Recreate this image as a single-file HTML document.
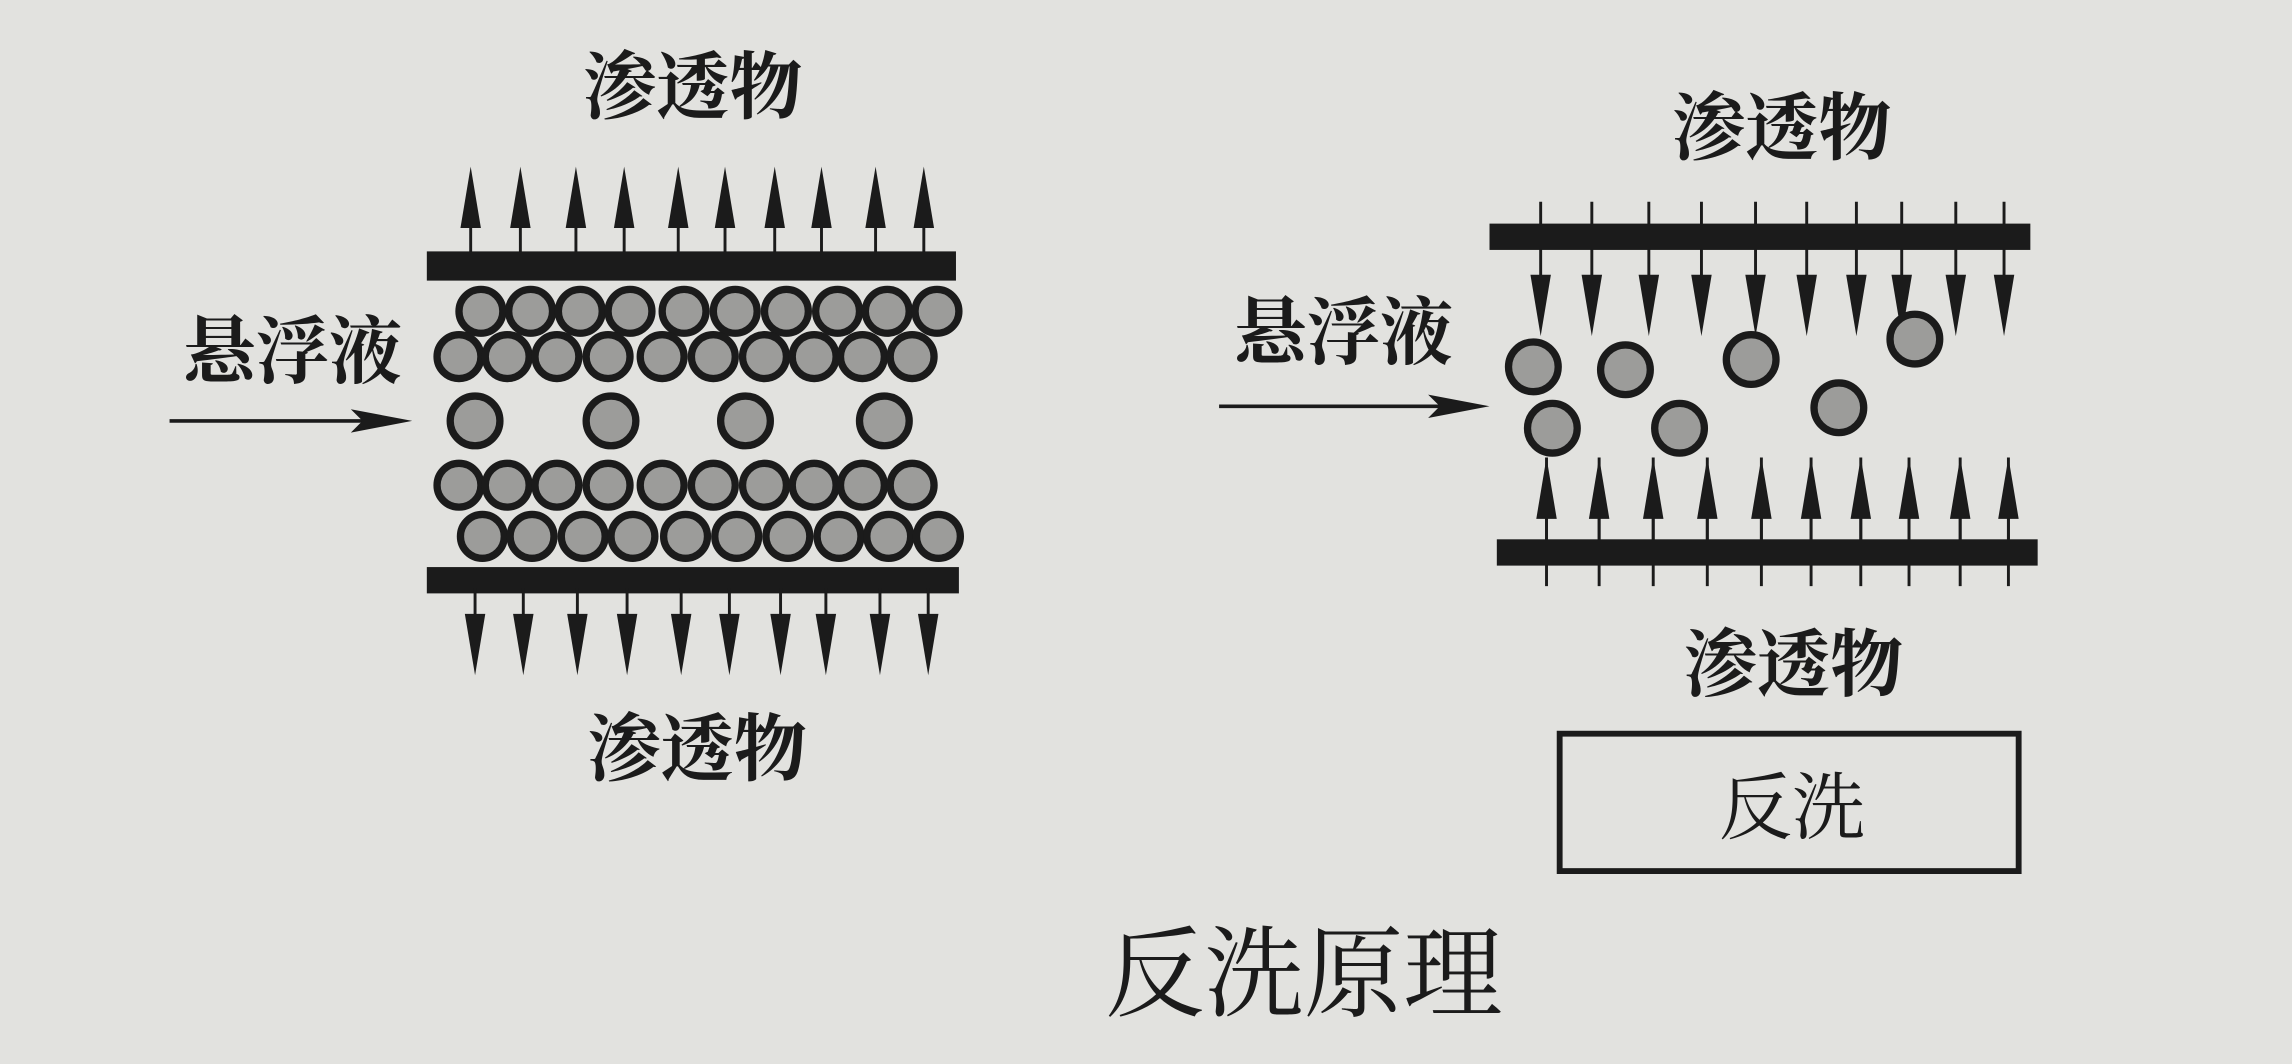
<!DOCTYPE html>
<html><head><meta charset="utf-8"><style>
html,body{margin:0;padding:0;background:#e2e2df;}
svg{display:block}
text{font-family:"Liberation Serif","Noto Serif CJK SC",serif;fill:#1b1b1b;}
</style></head><body>
<svg width="2292" height="1064" viewBox="0 0 1568 728" preserveAspectRatio="none" xmlns="http://www.w3.org/2000/svg">
<defs>
<g id="up"><line x1="0" y1="10" x2="0" y2="60" stroke="#1b1b1b" stroke-width="2"/><polygon points="0,0 -7,42 7,42" fill="#1b1b1b"/></g>
<g id="dn"><line x1="0" y1="0" x2="0" y2="-50" stroke="#1b1b1b" stroke-width="2"/><polygon points="0,10 -7,-32 7,-32" fill="#1b1b1b"/></g>
<g id="dn2"><line x1="0" y1="0" x2="0" y2="-82" stroke="#1b1b1b" stroke-width="2"/><polygon points="0,10 -7,-32 7,-32" fill="#1b1b1b"/></g>
<g id="c"><circle r="15" fill="#9c9c9a" stroke="#1b1b1b" stroke-width="5"/></g>
<g id="cb"><circle r="17" fill="#9c9c9a" stroke="#1b1b1b" stroke-width="5"/></g>
</defs>
<rect width="1568" height="728" fill="#e2e2df"/>

<!-- LEFT -->
<text x="474" y="77" font-size="50" font-weight="bold" text-anchor="middle">渗透物</text>
<text x="477" y="530" font-size="50" font-weight="bold" text-anchor="middle">渗透物</text>
<text x="200" y="258" font-size="50" font-weight="bold" text-anchor="middle">悬浮液</text>
<line x1="116" y1="288" x2="268" y2="288" stroke="#1b1b1b" stroke-width="2.5"/>
<polygon points="282,288 240,280 248,288 240,296" fill="#1b1b1b"/>

<g transform="translate(0,114)">
<use href="#up" x="322"/><use href="#up" x="356"/><use href="#up" x="394"/><use href="#up" x="427"/><use href="#up" x="464"/><use href="#up" x="496"/><use href="#up" x="530"/><use href="#up" x="562"/><use href="#up" x="599"/><use href="#up" x="632"/>
</g>
<rect x="292" y="172" width="362" height="20" fill="#1b1b1b"/>
<rect x="292" y="388" width="364" height="18" fill="#1b1b1b"/>
<g transform="translate(0,452)">
<use href="#dn" x="325"/><use href="#dn" x="358"/><use href="#dn" x="395"/><use href="#dn" x="429"/><use href="#dn" x="466"/><use href="#dn" x="499"/><use href="#dn" x="534"/><use href="#dn" x="565"/><use href="#dn" x="602"/><use href="#dn" x="635"/>
</g>
<g transform="translate(0,213)">
<use href="#c" x="329"/><use href="#c" x="363"/><use href="#c" x="397"/><use href="#c" x="431"/><use href="#c" x="468"/><use href="#c" x="503"/><use href="#c" x="538"/><use href="#c" x="573"/><use href="#c" x="607"/><use href="#c" x="641"/>
</g>
<g transform="translate(0,244)">
<use href="#c" x="314"/><use href="#c" x="347"/><use href="#c" x="381"/><use href="#c" x="416"/><use href="#c" x="453"/><use href="#c" x="488"/><use href="#c" x="523"/><use href="#c" x="557"/><use href="#c" x="590"/><use href="#c" x="624"/>
</g>
<g transform="translate(0,288)">
<use href="#cb" x="325"/><use href="#cb" x="418"/><use href="#cb" x="510"/><use href="#cb" x="605"/>
</g>
<g transform="translate(0,332)">
<use href="#c" x="314"/><use href="#c" x="347"/><use href="#c" x="381"/><use href="#c" x="416"/><use href="#c" x="453"/><use href="#c" x="488"/><use href="#c" x="523"/><use href="#c" x="557"/><use href="#c" x="590"/><use href="#c" x="624"/>
</g>
<g transform="translate(0,367)">
<use href="#c" x="330"/><use href="#c" x="364"/><use href="#c" x="399"/><use href="#c" x="433"/><use href="#c" x="469"/><use href="#c" x="504"/><use href="#c" x="539"/><use href="#c" x="574"/><use href="#c" x="608"/><use href="#c" x="642"/>
</g>

<!-- RIGHT -->
<text x="1219" y="105" font-size="50" font-weight="bold" text-anchor="middle">渗透物</text>
<text x="1227" y="472" font-size="50" font-weight="bold" text-anchor="middle">渗透物</text>
<text x="919" y="245" font-size="50" font-weight="bold" text-anchor="middle">悬浮液</text>
<line x1="834" y1="278" x2="1004" y2="278" stroke="#1b1b1b" stroke-width="2.5"/>
<polygon points="1019,278 977,270 985,278 977,286" fill="#1b1b1b"/>

<g transform="translate(0,220)">
<use href="#dn2" x="1054"/><use href="#dn2" x="1089"/><use href="#dn2" x="1128"/><use href="#dn2" x="1164"/><use href="#dn2" x="1201"/><use href="#dn2" x="1236"/><use href="#dn2" x="1270"/><use href="#dn2" x="1301"/><use href="#dn2" x="1338"/><use href="#dn2" x="1371"/>
</g>
<rect x="1019" y="153" width="370" height="18" fill="#1b1b1b"/>
<g transform="translate(0,313)">
<line x1="1058" y1="0" x2="1058" y2="88" stroke="#1b1b1b" stroke-width="2"/>
<line x1="1094" y1="0" x2="1094" y2="88" stroke="#1b1b1b" stroke-width="2"/>
<line x1="1131" y1="0" x2="1131" y2="88" stroke="#1b1b1b" stroke-width="2"/>
<line x1="1168" y1="0" x2="1168" y2="88" stroke="#1b1b1b" stroke-width="2"/>
<line x1="1205" y1="0" x2="1205" y2="88" stroke="#1b1b1b" stroke-width="2"/>
<line x1="1239" y1="0" x2="1239" y2="88" stroke="#1b1b1b" stroke-width="2"/>
<line x1="1273" y1="0" x2="1273" y2="88" stroke="#1b1b1b" stroke-width="2"/>
<line x1="1306" y1="0" x2="1306" y2="88" stroke="#1b1b1b" stroke-width="2"/>
<line x1="1341" y1="0" x2="1341" y2="88" stroke="#1b1b1b" stroke-width="2"/>
<line x1="1374" y1="0" x2="1374" y2="88" stroke="#1b1b1b" stroke-width="2"/>
<use href="#up" x="1058"/><use href="#up" x="1094"/><use href="#up" x="1131"/><use href="#up" x="1168"/><use href="#up" x="1205"/><use href="#up" x="1239"/><use href="#up" x="1273"/><use href="#up" x="1306"/><use href="#up" x="1341"/><use href="#up" x="1374"/>
</g>
<rect x="1024" y="369" width="370" height="18" fill="#1b1b1b"/>
<use href="#cb" x="1049" y="251"/><use href="#cb" x="1112" y="253"/><use href="#cb" x="1198" y="246"/><use href="#cb" x="1310" y="232"/>
<use href="#cb" x="1062" y="293"/><use href="#cb" x="1149" y="293"/><use href="#cb" x="1258" y="279"/>

<rect x="1067" y="502" width="314" height="94" fill="none" stroke="#1b1b1b" stroke-width="4"/>
<text x="1226" y="570" font-size="50" text-anchor="middle">反洗</text>

<text x="892" y="690" font-size="68" text-anchor="middle">反洗原理</text>
</svg>
</body></html>
